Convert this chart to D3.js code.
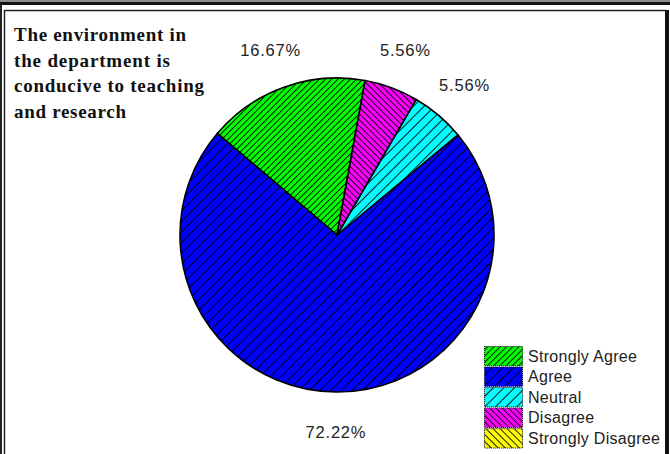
<!DOCTYPE html>
<html>
<head>
<meta charset="utf-8">
<script src="https://cdn.jsdelivr.net/npm/d3@7"></script>
<style>
  html, body { margin: 0; padding: 0; background: #fff; }
  svg { display: block; }
</style>
</head>
<body>
<svg id="chart" width="670" height="454"></svg>
<script>
const categories = ["Strongly Agree", "Agree", "Neutral", "Disagree", "Strongly Disagree"];
const values = [16.67, 72.22, 5.56, 5.56, 0];
const colors = ["#00ff00", "#0000ff", "#00ffff", "#ff00ff", "#ffff00"];
const titleLines = ["The environment in", "the department is", "conducive to teaching", "and research"];

const svg = d3.select("#chart");
const W = 670, H = 454;
svg.append("rect").attr("width", W).attr("height", H).attr("fill", "#fff");

// hatch patterns: [angle, spacing]
const hatch = [[45, 4.4], [45, 7.5], [45, 7.5], [-45, 4.4], [-45, 5]];
const defs = svg.append("defs");
hatch.forEach(([ang, sp], i) => {
  const p = defs.append("pattern")
    .attr("id", "h" + i)
    .attr("patternUnits", "userSpaceOnUse")
    .attr("width", sp).attr("height", sp)
    .attr("patternTransform", `rotate(${ang})`);
  p.append("rect").attr("width", sp).attr("height", sp).attr("fill", colors[i]);
  p.append("line").attr("x1", 0.5).attr("y1", 0).attr("x2", 0.5).attr("y2", sp)
    .attr("stroke", "#000").attr("stroke-width", 0.9);
});

// frame
svg.append("rect").attr("x", 0).attr("y", 0).attr("width", W).attr("height", 2).attr("fill", "#8a8a8a");
svg.append("rect").attr("x", 0).attr("y", 2).attr("width", W).attr("height", 3).attr("fill", "#111");
svg.append("rect").attr("x", 0).attr("y", 5).attr("width", 2).attr("height", H).attr("fill", "#222");
svg.append("line").attr("x1", 4.5).attr("y1", 10).attr("x2", 4.5).attr("y2", H).attr("stroke", "#222").attr("stroke-width", 1.5);
svg.append("line").attr("x1", 4).attr("y1", 10.5).attr("x2", 666).attr("y2", 10.5).attr("stroke", "#222").attr("stroke-width", 1.5);
svg.append("rect").attr("x", 665).attr("y", 10).attr("width", 4).attr("height", H).attr("fill", "#111");

// title
const title = svg.append("text")
  .attr("font-family", "'Liberation Serif', 'Times New Roman', serif")
  .attr("font-weight", "bold").attr("font-size", 19).attr("fill", "#111");
const titleWidths = [172, 156, 190, 112];
titleLines.forEach((t, i) => {
  title.append("tspan").attr("x", 14).attr("y", 41 + i * 25.5)
    .attr("textLength", titleWidths[i]).attr("lengthAdjust", "spacing").text(t);
});

// pie
const cx = 337, cy = 235, R = 157;
const start = 10.3 * Math.PI / 180;
const pie = d3.pie().sort(null).value(d => d.v)
  .startAngle(start).endAngle(start - 2 * Math.PI);
const data = categories.map((c, i) => ({ c, v: values[i], i }));
const arcs = pie(data);
const arc = d3.arc().innerRadius(0).outerRadius(R);
const labelArc = d3.arc().innerRadius(197).outerRadius(197);

const g = svg.append("g").attr("transform", `translate(${cx},${cy})`);
g.selectAll("path").data(arcs.filter(a => a.data.v > 0)).join("path")
  .attr("d", arc)
  .attr("fill", d => `url(#h${d.data.i})`)
  .attr("stroke", "#000").attr("stroke-width", 1.6).attr("stroke-linejoin", "round");

g.selectAll("text.lbl").data(arcs.filter(a => a.data.v > 0)).join("text")
  .attr("class", "lbl")
  .attr("transform", d => `translate(${labelArc.centroid(d)})`)
  .attr("text-anchor", "middle").attr("dominant-baseline", "central")
  .attr("font-family", "'Liberation Sans', Arial, sans-serif")
  .attr("font-size", 16.5).attr("letter-spacing", 0.8).attr("fill", "#222")
  .text(d => d.data.v.toFixed(2) + "%");

// legend
const legY = d3.scaleBand().domain(categories).range([346.5, 448]).paddingInner(0.06);
const leg = svg.append("g");
categories.forEach((c, i) => {
  leg.append("rect").attr("x", 484.5).attr("y", legY(c))
    .attr("width", 38).attr("height", legY.bandwidth())
    .attr("fill", `url(#h${i})`)
    .attr("stroke", "#000").attr("stroke-width", 1).attr("stroke-dasharray", "1,1");
  leg.append("text").attr("x", 528).attr("y", legY(c) + legY.bandwidth() / 2)
    .attr("dominant-baseline", "central")
    .attr("font-family", "'Liberation Sans', Arial, sans-serif")
    .attr("font-size", 16).attr("letter-spacing", 0.3).attr("fill", "#222")
    .text(c);
});
</script>
</body>
</html>
